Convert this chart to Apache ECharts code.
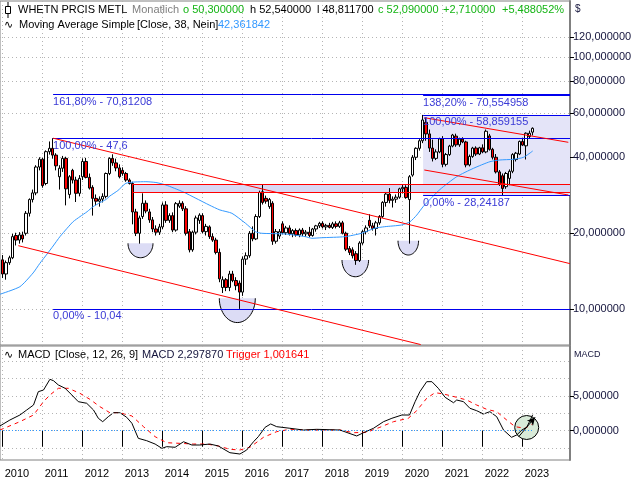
<!DOCTYPE html>
<html><head><meta charset="utf-8">
<script src="https://cdn.jsdelivr.net/npm/echarts@6/dist/echarts.min.js"></script>
<style>html,body{margin:0;padding:0;background:#fff}#c{width:640px;height:480px}</style>
</head><body><div id="c"></div>
<script>
// ---------- DATA (monthly candles from Jan 2010) ----------
const startYear = 2010;
const opens = [
 15.7,13.8,15.3,16.0,19.6,18.8,19.7,20.0,24.0,27.2,28.9,36.6,
 39.3,31.5,42.1,43.4,40.8,33.5,36.2,39.6,28.5,35.5,32.5,28.8,
 33.5,38.5,33.3,30.4,27.5,26.8,27.3,28.0,34.5,39.6,38.0,36.3,
 35.5,34.5,32.5,31.5,24.3,20.0,23.3,26.3,24.3,22.6,20.8,20.2,
 21.2,25.9,22.5,23.5,20.6,25.6,26.3,25.0,20.3,17.2,20.2,22.5,
 23.5,20.3,21.2,19.4,18.8,16.8,12.2,13.1,12.2,13.8,13.0,12.7,
 11.7,15.8,16.3,20.0,19.0,23.3,29.2,27.5,25.5,26.3,18.6,19.5,
 21.8,20.1,21.0,19.9,20.5,19.7,20.6,19.9,20.2,19.6,20.8,21.4,
 21.9,21.2,21.5,21.1,21.8,21.3,22.0,20.0,17.4,17.2,16.6,15.6,
 18.3,20.3,22.5,21.4,20.9,22.0,23.3,26.5,28.6,27.0,27.3,27.8,
 30.0,30.4,27.2,34.0,40.0,43.4,46.5,55.0,49.5,43.5,39.6,42.0,
 47.3,37.5,41.0,44.3,48.5,44.8,47.2,46.0,37.3,40.3,43.5,41.2,
 43.6,42.0,48.6,43.0,40.0,35.0,33.8,30.6,33.0,35.2,39.2,41.2,
 46.2,44.4,48.3,50.3];
const highs = [
 16.4,15.6,16.3,19.9,20.1,20.2,20.3,24.5,27.5,29.8,37.2,40.0,
 39.8,42.6,46.2,47.6,41.5,37.2,40.5,40.2,34.0,36.0,33.5,34.0,
 39.6,39.8,34.5,31.0,28.5,28.0,28.8,34.8,40.0,41.1,39.5,37.5,
 36.5,35.0,33.0,32.0,25.0,23.5,28.8,27.0,25.0,23.2,21.5,21.8,
 26.5,26.8,24.0,24.2,26.6,27.0,26.8,25.6,20.8,20.5,23.5,24.0,
 24.0,21.8,21.5,20.0,19.2,17.4,13.5,13.3,14.2,14.2,13.4,13.0,
 16.2,16.8,20.4,21.3,23.8,29.5,31.3,28.2,27.6,26.8,20.8,20.8,
 22.3,21.4,21.5,20.8,20.9,20.9,21.0,20.6,21.2,21.0,21.6,22.2,
 22.3,21.8,22.0,22.2,22.3,22.4,22.4,20.3,17.8,17.6,17.0,18.6,
 20.6,21.5,23.8,22.0,22.4,23.6,26.8,29.0,30.2,28.0,28.5,30.3,
 31.2,31.0,34.0,40.8,43.8,47.2,58.86,57.5,51.5,47.0,43.0,47.8,
 48.5,41.6,44.8,49.5,49.6,47.8,48.0,46.5,41.0,44.0,44.2,44.0,
 45.0,51.5,49.5,43.6,41.2,35.6,34.5,35.0,35.8,41.5,42.0,46.6,
 47.8,50.2,51.0,52.54];
const lows = [
 13.3,13.1,15.0,15.8,17.9,18.2,18.4,19.6,23.3,26.5,28.3,35.5,
 30.3,31.0,41.0,39.5,35.5,29.8,35.0,25.8,27.5,31.5,26.6,28.0,
 32.5,33.0,29.8,23.5,25.8,25.5,26.5,27.5,34.0,37.0,35.2,33.0,
 33.8,32.0,31.2,21.7,19.5,18.2,22.8,24.0,22.0,20.2,19.6,19.7,
 20.8,22.0,22.0,20.2,20.3,25.2,24.5,19.6,16.8,16.9,19.8,21.8,
 20.0,19.6,19.0,18.5,16.5,12.8,11.6,11.8,11.8,12.8,11.9,10.04,
 11.3,15.0,16.0,18.6,18.8,23.0,26.0,26.2,25.0,18.0,18.2,19.0,
 19.8,19.7,19.6,19.3,19.4,19.3,19.5,19.4,19.3,19.4,20.3,21.0,
 20.9,20.6,20.9,20.8,20.9,21.0,19.8,17.0,16.4,15.9,15.0,15.4,
 18.0,19.8,21.0,20.5,19.6,21.6,23.0,25.5,26.3,25.3,26.4,27.4,
 28.8,27.4,18.2,33.5,39.0,42.5,45.5,46.5,42.0,38.5,39.0,41.5,
 36.5,36.8,40.5,43.8,44.0,44.0,45.5,36.5,36.8,39.8,40.5,40.8,
 41.5,41.5,42.5,39.2,34.5,30.8,28.24,30.0,31.0,34.6,38.5,40.8,
 44.3,39.2,47.5,48.8117];
const closes = [
 13.8,15.3,16.0,19.4,18.8,19.7,19.0,24.0,27.2,28.9,36.6,39.3,
 30.9,42.1,43.4,40.8,37.0,36.2,39.6,30.0,33.5,32.5,28.8,33.0,
 38.5,33.3,30.2,27.5,26.8,27.3,28.0,34.5,39.6,38.0,36.3,33.5,
 34.5,32.5,31.5,24.3,20.0,23.0,26.3,24.5,22.6,20.8,20.2,21.2,
 25.9,22.5,23.5,20.6,26.2,26.3,25.0,20.0,17.2,20.2,23.0,23.6,
 20.3,21.3,19.4,18.8,16.8,13.2,13.1,12.2,13.8,13.0,12.4,11.7,
 15.8,16.3,20.0,19.0,23.3,29.0,26.5,26.8,27.2,18.6,20.3,20.3,
 20.1,21.0,19.9,20.5,19.7,20.6,19.9,20.2,19.6,20.8,21.4,21.9,
 21.2,21.5,21.1,21.8,21.3,22.0,20.0,17.3,16.8,16.3,15.6,18.3,
 20.3,21.0,21.4,20.9,22.0,23.3,26.5,28.6,27.0,27.3,27.8,30.0,
 30.4,27.7,33.5,40.0,43.4,46.5,56.2,49.5,43.5,39.6,42.0,47.3,
 37.5,41.0,44.3,49.0,44.8,47.2,46.0,37.3,40.3,43.5,41.2,43.6,
 42.0,50.7,43.0,40.0,35.0,31.3,30.1,34.5,35.2,41.0,41.5,46.2,
 44.7,49.8,49.8,52.09];

// Moving Average Simple (38)
const maTimes = [2009.93,2010.43,2010.76,2010.93,2011.11,2011.26,2011.43,2011.61,2011.76,2011.93,2012.11,2012.26,2012.43,2012.58,2012.68,2012.88,2013.08,2013.31,2013.58,2013.83,2014.08,2014.5,2014.83,2015.16,2015.43,2015.73,2016.07,2016.32,2016.48,2017.07,2017.57,2017.73,2017.98,2018.55,2018.97,2019.3,2019.55,2019.97,2020.18,2020.35,2020.52,2020.93,2021.35,2021.77,2022.18,2022.43,2022.77,2023.02,2023.25];
const maValues = [11.47,12.29,13.93,15.21,16.56,17.81,19.39,20.94,22.23,23.27,24.35,25.49,26.43,27.21,28.10,29.54,31.55,31.93,32.01,31.78,31.06,29.22,27.52,25.89,24.74,24.0,21.91,20.29,20.0,19.87,19.39,19.11,19.21,19.39,20.0,20.94,21.24,21.57,22.2,23.6,25.6,29.8,33.51,36.17,38.42,39.02,39.27,39.99,42.36];

// MACD and trigger
const macdTimes = [2009.93,2010.18,2010.43,2010.6,2010.77,2010.89,2011.02,2011.18,2011.27,2011.39,2011.56,2011.73,2011.89,2012.1,2012.27,2012.39,2012.5,2012.64,2012.77,2012.93,2013.1,2013.23,2013.39,2013.6,2013.81,2013.98,2014.1,2014.31,2014.52,2014.73,2014.93,2015.18,2015.39,2015.68,2015.93,2016.1,2016.27,2016.39,2016.56,2016.7,2016.85,2017.18,2017.52,2017.85,2018.43,2018.85,2019.02,2019.27,2019.52,2019.73,2019.98,2020.17,2020.31,2020.43,2020.6,2020.73,2020.89,2021.06,2021.27,2021.35,2021.52,2021.68,2021.85,2022.02,2022.18,2022.35,2022.52,2022.72,2022.85,2022.98,2023.1,2023.17,2023.25];
const macdValues = [0.68,1.54,2.26,2.98,3.70,5.62,5.86,7.4,7.2,6.59,6.11,5.14,4.18,3.95,2.98,1.79,1.30,2.02,2.59,2.59,1.93,1.07,-1.1,-1.44,-1.92,-2.54,-2.3,-2.39,-1.59,-2.06,-2.06,-1.92,-2.2,-3.17,-3.36,-2.78,-1.59,-0.86,0.49,0.97,0.58,0.35,0.1,0.2,0.1,-0.76,-0.29,0.35,1.30,1.79,2.26,2.26,4.18,5.62,7.06,7.06,6.11,4.81,4.03,4.42,4.18,3.23,2.88,2.41,2.74,2.02,0.1,-0.95,-0.62,0.1,0.49,1.3,2.298];
const trigTimes = [2009.93,2010.43,2010.77,2011.02,2011.18,2011.39,2011.64,2011.93,2012.18,2012.43,2012.68,2012.93,2013.23,2013.52,2013.81,2014.1,2014.43,2014.77,2015.1,2015.39,2015.68,2015.93,2016.18,2016.52,2016.85,2017.18,2017.6,2018.43,2018.77,2019.1,2019.43,2019.77,2020.14,2020.35,2020.6,2020.81,2021.02,2021.35,2021.6,2021.85,2022.1,2022.35,2022.6,2022.81,2023.06,2023.25];
const trigValues = [0.1,1.3,2.26,4.18,5.14,6.11,6.11,5.39,4.52,3.46,2.59,2.59,2.12,0.58,-0.86,-1.73,-1.82,-1.92,-1.92,-2.2,-2.68,-2.78,-2.39,-0.95,-0.14,0.2,0.1,0.1,-0.29,-0.23,0.49,1.30,1.79,2.88,4.67,5.48,5.29,4.81,4.42,3.70,3.08,2.74,1.54,0.58,0.35,1.00];

// axis ticks
const yearTicks = [2010,2011,2012,2013,2014,2015,2016,2017,2018,2019,2020,2021,2022,2023];
const priceTicks = [10,20,40,60,80,100,120];
const macdTicks = [0,5];
const macdGridRows = [-2.5,2.5,7.5,10];

// Fibonacci annotations
const fibAStart = 2011.26;
const fibALevels = [70.81208, 47.6, 10.04];
const fibALabels = ['161,80% - 70,81208', '100,00% - 47,6', '0,00% - 10,04'];
const fibBStart = 2020.51;
const fibBLevels = [70.554958, 58.859155, 28.24187];
const fibBLabels = ['138,20% - 70,554958', '100,00% - 58,859155', '0,00% - 28,24187'];

// trend lines [[t1,v1],[t2,v2]]
const trendLines = [
  [[2011.26, 47.6], [2024.18, 15.17]],
  [[2010.39, 17.86], [2020.45, 7.25]],
  [[2020.54, 57.4], [2024.14, 45.85]],
  [[2020.54, 35.62], [2024.14, 28.36]]
];
const bandStart = 2013.25, bandTop = 31.21, bandBottom = 29.01;
// low markers (half circles) [time, value at chord]
const lowMarkTimes = [2013.445, 2015.865, 2018.815, 2020.14];
const lowMarkValues = [18.25, 11.06, 15.67, 18.69];
// MACD circle + arrow
const macdCircle = [2023.1, 0.46];
const macdArrow = [[2022.9, -0.86], [2023.31, 1.93]];

// ---------- STYLE ----------
const X0 = 2009.9325, X1 = 2024.1825;
const FONT = '"Liberation Sans", Arial, sans-serif';
const lowMarkRx = [12.5, 18, 13.3, 10.3];
const lowMarkRy = [14.4, 24.3, 16.7, 14.3];
const fmt6 = v => (Math.round(Number(v) * 10000) / 10000).toFixed(6).replace('.', ',');
const dotted = {color: '#b4b4b4', type: [1, 3], width: 1};

const candleData = opens.map((o, i) => [startYear + i / 12, o, closes[i], lows[i], highs[i]]);
const maData = maTimes.map((t, i) => [t, maValues[i]]);
const macdData = macdTimes.map((t, i) => [t, macdValues[i]]);
const trigData = trigTimes.map((t, i) => [t, trigValues[i]]);

function fibLine(start, level, label) {
  return [{coord: [start, level],
    lineStyle: {color: '#0000ee', width: 1, type: 'solid'},
    label: {show: true, formatter: label, position: 'insideStartBottom', distance: [0, 2],
      color: '#3a3ad6', fontSize: 11, fontFamily: FONT}},
    {coord: [X1, level]}];
}
const redStyle = {color: '#ff0000', width: 1, type: 'solid'};
const mainLines = [];
fibALevels.forEach((l, i) => mainLines.push(fibLine(fibAStart, l, fibALabels[i])));
fibBLevels.forEach((l, i) => mainLines.push(fibLine(fibBStart, l, fibBLabels[i])));
trendLines.forEach(tl => mainLines.push([{coord: tl[0], lineStyle: redStyle, label: {show: false}}, {coord: tl[1]}]));
mainLines.push([{coord: [bandStart, bandTop], lineStyle: redStyle}, {coord: [X1, bandTop]}]);
mainLines.push([{coord: [bandStart, bandBottom], lineStyle: redStyle}, {coord: [X1, bandBottom]}]);
mainLines.push([{coord: [bandStart, bandTop], lineStyle: redStyle}, {coord: [bandStart, bandBottom]}]);

const macdLines = [
  [{coord: [X0, 0], lineStyle: {color: '#3399ff', type: [1, 2], width: 1}}, {coord: [macdTimes[macdTimes.length - 1], 0]}],
  [{coord: macdArrow[0], lineStyle: {color: '#000', type: 'solid', width: 1}, symbol: 'none'}, {coord: macdArrow[1], symbol: 'arrow', symbolSize: [6, 8]}]
];
macdGridRows.forEach(v => macdLines.push([{coord: [X0, v], lineStyle: dotted}, {coord: [X1, v]}]));

function txt(x, y, text, color, size, family) {
  return {type: 'text', x: x, y: y, z: 100, silent: true,
    style: {text: text, fill: color, font: (size || 11) + 'px ' + (family || FONT), verticalAlign: 'middle', align: 'left'}};
}

const chart = echarts.init(document.getElementById('c'), null, {renderer: 'canvas'});
chart.setOption({
  animation: false,
  backgroundColor: '#ffffff',
  textStyle: {fontFamily: FONT},
  grid: [
    {left: 0, right: 70, top: 1, height: 344, show: true, borderColor: '#808080', borderWidth: 1},
    {left: 0, right: 70, top: 346, height: 114, show: true, borderColor: '#808080', borderWidth: 1}
  ],
  xAxis: [
    {gridIndex: 0, type: 'value', min: X0, max: X1,
      axisLine: {show: false}, axisTick: {show: false, customValues: yearTicks},
      axisLabel: {show: false, customValues: yearTicks}, splitLine: {show: true, lineStyle: dotted}},
    {gridIndex: 1, type: 'value', min: X0, max: X1,
      axisLine: {show: false},
      axisTick: {show: true, customValues: yearTicks, length: 16, lineStyle: {color: '#000'}},
      axisLabel: {show: true, customValues: yearTicks, align: 'left', margin: 8, padding: [0, 0, 0, 2],
        color: '#000', fontSize: 11, fontFamily: FONT, formatter: v => String(Math.round(v))},
      splitLine: {show: true, lineStyle: dotted}}
  ],
  yAxis: [
    {gridIndex: 0, type: 'log', logBase: 10, min: 7.222, max: 166.3, position: 'right',
      axisLine: {show: true, lineStyle: {color: '#808080', width: 2}},
      axisTick: {show: true, customValues: priceTicks, length: 4, lineStyle: {color: '#000'}},
      axisLabel: {customValues: priceTicks, formatter: fmt6, margin: 3, color: '#14143c', fontSize: 11, fontFamily: FONT},
      splitLine: {show: true, lineStyle: dotted}},
    {gridIndex: 1, type: 'value', min: -4.22, max: 12.2, position: 'right',
      axisLine: {show: true, lineStyle: {color: '#808080', width: 2}},
      axisTick: {show: true, customValues: macdTicks, length: 4, lineStyle: {color: '#000'}},
      axisLabel: {customValues: macdTicks, formatter: fmt6, margin: 3, color: '#14143c', fontSize: 11, fontFamily: FONT},
      splitLine: {show: true, lineStyle: dotted}}
  ],
  series: [
    {type: 'line', xAxisIndex: 0, yAxisIndex: 0, z: 1, data: [[2012, 20]], symbol: 'none',
      lineStyle: {opacity: 0}, silent: true,
      markArea: {silent: true, data: [
        [{coord: [fibBStart, fibBLevels[1]], itemStyle: {color: '#e4e4f8', borderWidth: 0, opacity: 1}}, {coord: [X1, fibBLevels[2]]}],
        [{coord: [bandStart, bandTop], itemStyle: {color: '#d8d8f4', borderWidth: 0, opacity: 1}}, {coord: [X1, bandBottom]}]
      ]}},
    {type: 'custom', xAxisIndex: 0, yAxisIndex: 0, z: 2, silent: true, clip: false,
      data: lowMarkTimes.map((t, i) => [t, lowMarkValues[i]]),
      renderItem: function (params, api) {
        const p = api.coord([api.value(0), api.value(1)]);
        const rx = lowMarkRx[params.dataIndex], ry = lowMarkRy[params.dataIndex];
        const pts = [];
        for (let k = 0; k <= 30; k++) { const a = Math.PI * k / 30; pts.push([p[0] + rx * Math.cos(a), p[1] + ry * Math.sin(a)]); }
        return {type: 'group', children: [
          {type: 'polygon', shape: {points: pts}, style: {fill: '#dcdcf5', stroke: null}},
          {type: 'polyline', shape: {points: pts}, style: {stroke: '#000', lineWidth: 1, fill: null}}
        ]};
      }},
    {type: 'candlestick', xAxisIndex: 0, yAxisIndex: 0, z: 3, barWidth: 3, data: candleData,
      itemStyle: {color: '#ffffff', color0: '#ff0000', borderColor: '#000000', borderColor0: '#000000', borderWidth: 1}},
    {type: 'line', xAxisIndex: 0, yAxisIndex: 0, z: 4, data: maData, symbol: 'none', smooth: 0.2,
      lineStyle: {color: '#3399ff', width: 1}},
    {type: 'line', xAxisIndex: 0, yAxisIndex: 0, z: 5, data: [[2012, 20]], symbol: 'none',
      lineStyle: {opacity: 0}, silent: true,
      markLine: {silent: true, symbol: ['none', 'none'], animation: false, label: {show: false}, data: mainLines}},
    {type: 'custom', xAxisIndex: 1, yAxisIndex: 1, z: 1, silent: true, data: [macdCircle],
      renderItem: function (params, api) {
        const p = api.coord([api.value(0), api.value(1)]);
        return {type: 'circle', shape: {cx: p[0], cy: p[1], r: 12}, style: {fill: '#d8ead8', stroke: '#000', lineWidth: 1}};
      }},
    {type: 'line', xAxisIndex: 1, yAxisIndex: 1, z: 2, data: [[2012, 0]], symbol: 'none',
      lineStyle: {opacity: 0}, silent: true,
      markLine: {silent: true, symbol: ['none', 'none'], animation: false, label: {show: false}, data: macdLines}},
    {type: 'line', xAxisIndex: 1, yAxisIndex: 1, z: 3, data: trigData, symbol: 'none',
      lineStyle: {color: '#ff0000', width: 1, type: [4, 4]}},
    {type: 'line', xAxisIndex: 1, yAxisIndex: 1, z: 4, data: macdData, symbol: 'none',
      lineStyle: {color: '#000000', width: 1}}
  ],
  graphic: [
    {type: 'rect', z: 100, silent: true, shape: {x: 5.5, y: 6.5, width: 5, height: 7}, style: {fill: '#fff', stroke: '#000', lineWidth: 1}},
    {type: 'line', z: 100, silent: true, shape: {x1: 8, y1: 2, x2: 8, y2: 6.5}, style: {stroke: '#000', lineWidth: 1}},
    {type: 'line', z: 100, silent: true, shape: {x1: 8, y1: 13.5, x2: 8, y2: 18}, style: {stroke: '#000', lineWidth: 1}},
    txt(18, 10, 'WHETN PRCIS METL', '#000000'),
    txt(132, 10, 'Monatlich', '#808080'),
    txt(183, 10, 'o 50,300000', '#14b414'),
    txt(250, 10, 'h 52,540000', '#000000'),
    txt(317, 10, 'l 48,811700', '#000000'),
    txt(378, 10, 'c 52,090000', '#14b414'),
    txt(443, 10, '+2,710000', '#14b414'),
    txt(502, 10, '+5,488052%', '#14b414'),
    txt(575, 9, '$', '#14143c', 10),
    txt(4, 25, '\u223F', '#000000', 11, '"DejaVu Sans"'),
    txt(19, 25, 'Moving Average Simple', '#000000'),
    txt(137, 25, '[Close, 38, Nein]', '#000000'),
    txt(218, 25, '42,361842', '#3399ff'),
    txt(4, 355, '\u223F', '#000000', 11, '"DejaVu Sans"'),
    txt(18, 355, 'MACD', '#000000'),
    txt(55, 355, '[Close, 12, 26, 9]', '#000000'),
    txt(142, 355, 'MACD 2,297870', '#14143c'),
    txt(226, 355, 'Trigger 1,001641', '#ff0000'),
    txt(574, 355, 'MACD', '#14143c', 9)
  ]
});
</script></body></html>
